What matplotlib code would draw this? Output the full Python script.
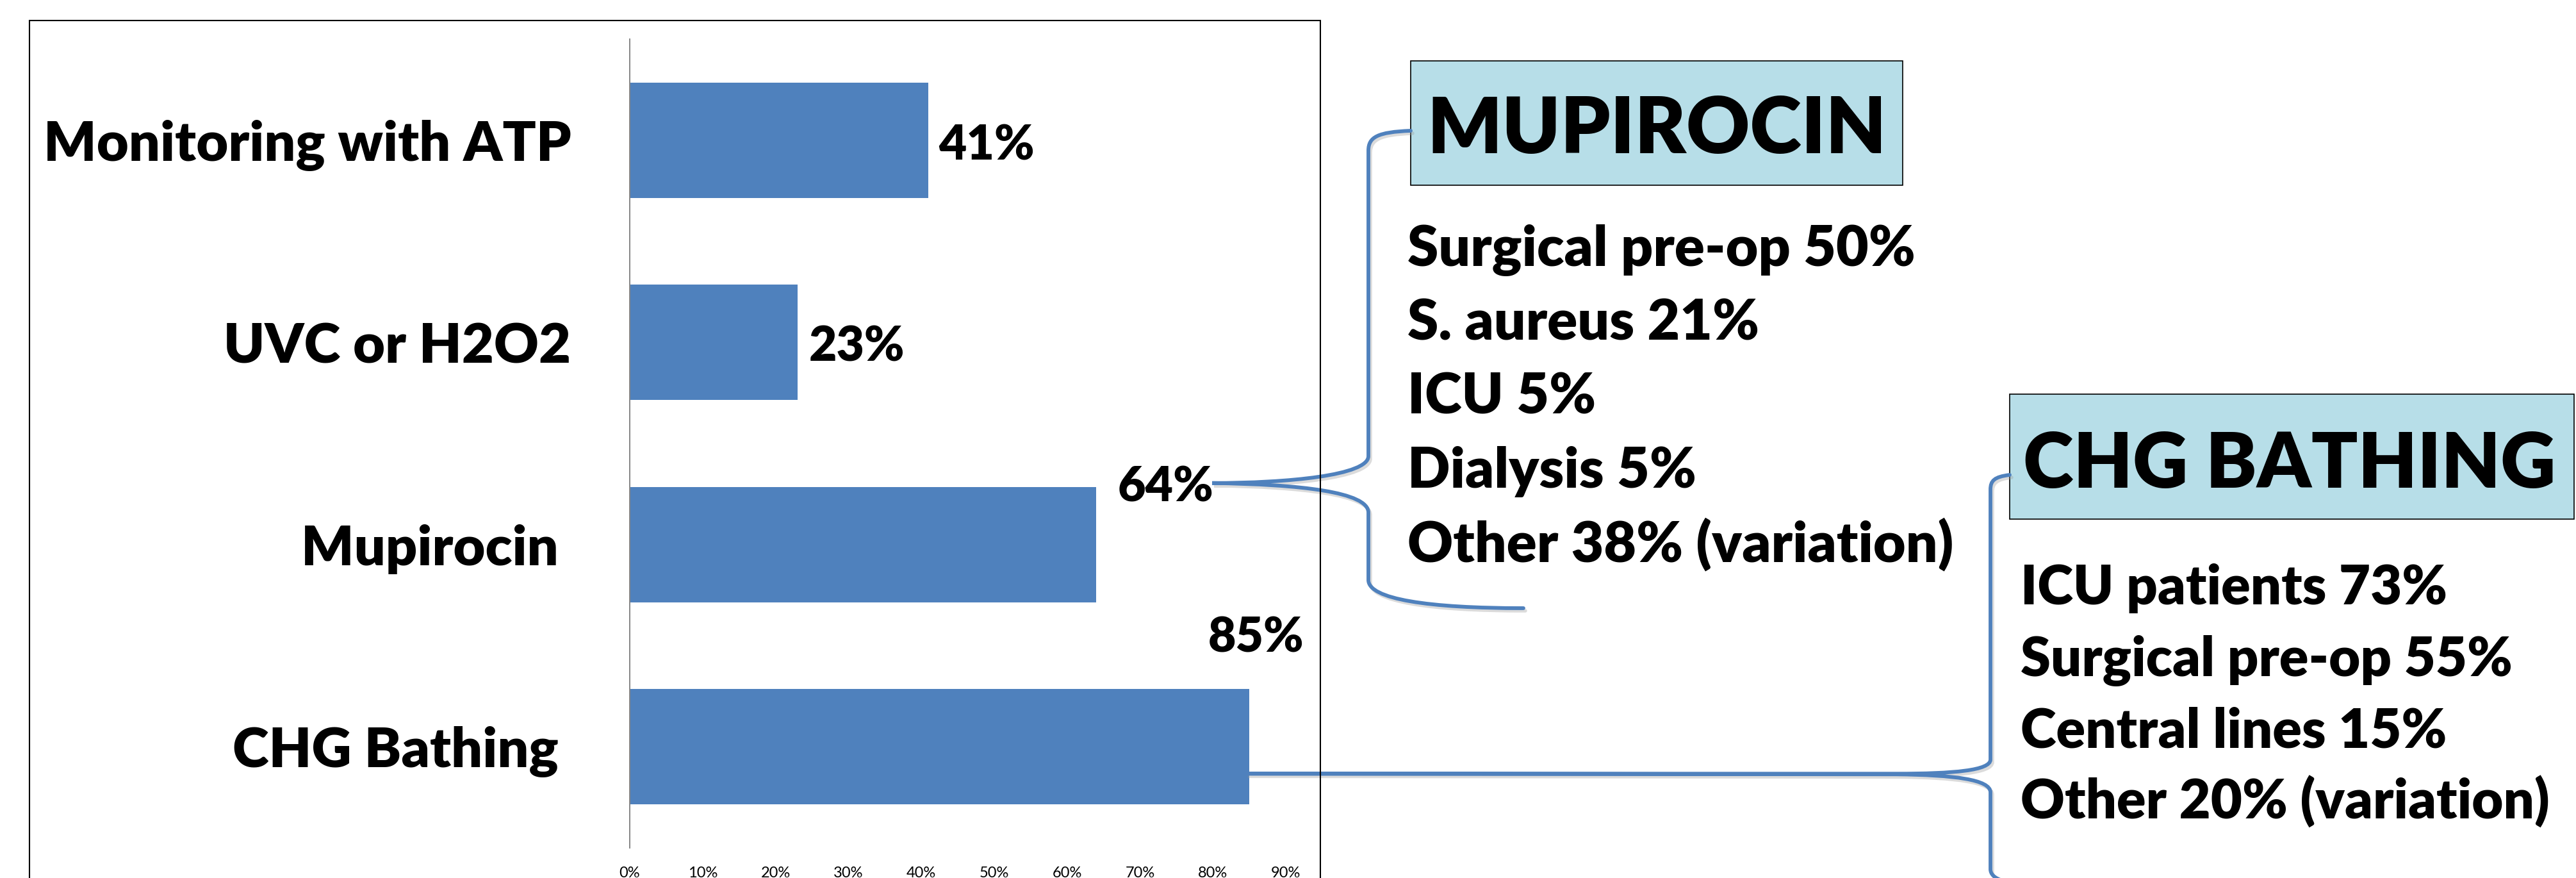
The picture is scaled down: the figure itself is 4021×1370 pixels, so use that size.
import numpy as np
import matplotlib
matplotlib.use('Agg')
import matplotlib.pyplot as plt
from matplotlib.path import Path
from matplotlib.patches import PathPatch, Rectangle

plt.rcParams['font.family'] = ['Lato', 'DejaVu Sans']

W, H = 4021, 1370
DPI = 100
HEAVY = 800

# data
categories = ['Monitoring with ATP', 'UVC or H2O2', 'Mupirocin ', 'CHG Bathing ']
values = [0.41, 0.23, 0.64, 0.85]
value_labels = ['41%', '23%', '64%', '85%']
x_ticks = [0.0, 0.1, 0.2, 0.3, 0.4, 0.5, 0.6, 0.7, 0.8, 0.9]
x_tick_labels = ['0%', '10%', '20%', '30%', '40%', '50%', '60%', '70%', '80%', '90%']

mup_title = 'MUPIROCIN'
mup_lines = ['Surgical pre-op 50%', 'S. aureus 21%', 'ICU 5%', 'Dialysis 5%',
             'Other 38% (variation)']
chg_title = 'CHG BATHING'
chg_lines = ['ICU patients 73%', 'Surgical pre-op 55%', 'Central lines 15%',
             'Other 20% (variation)']

BLUE = '#4F81BD'
BOX = '#B7DEE8'

fig = plt.figure(figsize=(W / DPI, H / DPI), dpi=DPI)

# bar chart
ax = fig.add_axes([983 / W, (H - 1323) / H, (2007 - 983) / W, (1323 - 61) / H])
ypos = np.arange(len(categories))
ax.barh(ypos, values, height=0.57, color=BLUE, zorder=2)
ax.set_xlim(0, 0.9)
ax.set_ylim(len(categories) - 0.5, -0.5)
ax.set_xticks(x_ticks)
ax.set_xticklabels(x_tick_labels, fontsize=17)
ax.set_yticks(ypos)
ax.set_yticklabels(categories, fontsize=62, fontweight=HEAVY)
ax.tick_params(axis='x', length=0, pad=21)
ax.tick_params(axis='y', length=0, pad=66)
for s in ['top', 'right', 'bottom']:
    ax.spines[s].set_visible(False)
ax.spines['left'].set_color('#868686')
ax.spines['left'].set_linewidth(1.4)

# value labels: baseline offsets in pixels from the bar end, up is positive
label_offsets = [(16, -31, 'left'), (18, -29, 'left'), (108, 67, 'center'), (10, 148, 'center')]
for i, (v, lab) in enumerate(zip(values, value_labels)):
    dx, dy, ha = label_offsets[i]
    ax.annotate(lab, (v, i), xytext=(dx, dy), textcoords='offset pixels',
                ha=ha, va='baseline', fontsize=54, fontweight=HEAVY)

# overlay in image pixel coordinates (y down)
ov = fig.add_axes([0, 0, 1, 1], zorder=5)
ov.set_xlim(0, W)
ov.set_ylim(H, 0)
ov.axis('off')
ov.patch.set_visible(False)


def to_ov(x, y):
    d = ax.transData.transform((x, y))
    return ov.transData.inverted().transform(d)


# chart frame
ov.plot([46, 46, 2061, 2061], [1400, 32, 32, 1400], color='black', lw=1.5,
        solid_joinstyle='miter')

# callout boxes
ov.add_patch(Rectangle((2202, 95), 2970 - 2202, 289 - 95, facecolor=BOX,
                       edgecolor='black', lw=1.2))
ov.text(2586, 239, mup_title, ha='center', va='baseline', fontsize=88,
        fontweight=HEAVY)
for k, line in enumerate(mup_lines):
    ov.text(2197, 415 + k * 115.3, line, ha='left', va='baseline', fontsize=63,
            fontweight=HEAVY)

ov.add_patch(Rectangle((3137, 615), 4018 - 3137, 810 - 615, facecolor=BOX,
                       edgecolor='black', lw=1.2))
ov.text(3574, 761, chg_title, ha='center', va='baseline', fontsize=86,
        fontweight=HEAVY)
for k, line in enumerate(chg_lines):
    ov.text(3154, 943 + k * 111.7, line, ha='left', va='baseline', fontsize=61,
            fontweight=HEAVY)


def brace(verts, codes):
    # soft shadow, then the line
    sh = [(x + 3, y + 4) for x, y in verts]
    ov.add_patch(PathPatch(Path(sh, codes), fill=False, edgecolor='#9a9a9a',
                           lw=4.0, alpha=0.35, capstyle='round'))
    ov.add_patch(PathPatch(Path(verts, codes), fill=False, edgecolor=BLUE,
                           lw=4.2, capstyle='round'))


C, L, M = Path.CURVE4, Path.LINETO, Path.MOVETO

bx, by = to_ov(values[2], 2)
tx, ty = bx + 181, by - 96
verts = [(2202, 204), (2150, 206), (2136, 214), (2136, 235),
         (2136, ty - 42),
         (2136, ty - 12), (tx + 118, ty), (tx, ty),
         (tx + 138, ty + 2), (2136, ty + 14), (2136, ty + 46),
         (2136, 905),
         (2136, 935), (2230, 949), (2378, 949)]
codes = [M, C, C, C, L, C, C, C, C, C, C, L, C, C, C]
brace(verts, codes)

bx, by = to_ov(values[3], 3)
tx, ty = bx - 5, by + 42
verts = [(3137, 741), (3113, 744), (3107, 750), (3107, 764),
         (3107, ty - 22),
         (3107, ty - 5), (3050, ty), (2960, ty),
         (tx, ty),
         (2960, ty + 1),
         (3050, ty + 2), (3107, ty + 9), (3107, ty + 29),
         (3107, 1356),
         (3107, 1372), (3130, 1380), (3200, 1386)]
codes = [M, C, C, C, L, C, C, C, L, L, C, C, C, L, C, C, C]
brace(verts, codes)

fig.savefig('out.png', dpi=DPI)
